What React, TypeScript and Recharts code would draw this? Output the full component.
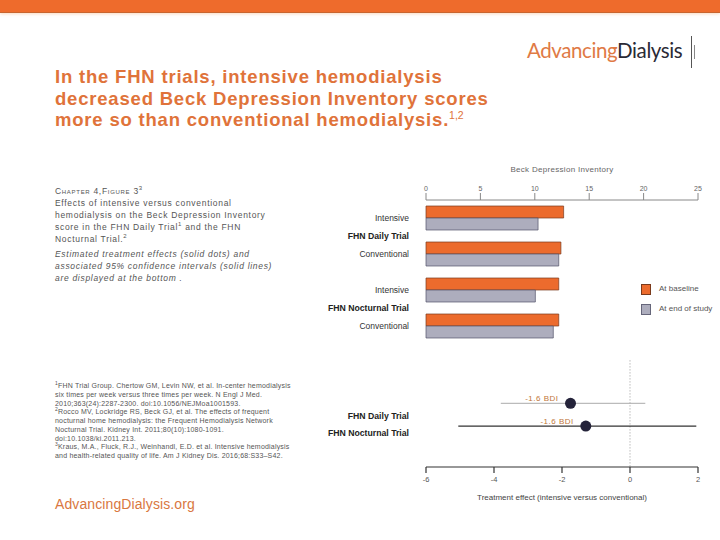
import React from 'react';
import {
  BarChart, Bar, XAxis, YAxis, ScatterChart, Scatter, ReferenceLine,
} from 'recharts';

// ---- Bar chart data (Beck Depression Inventory) ----
const armLabels = ['Intensive', 'Conventional', 'Intensive', 'Conventional'];
const trialGroups = ['FHN Daily Trial', '', 'FHN Nocturnal Trial', ''];
const baselineValues = [12.65, 12.4, 12.2, 12.2];
const endValues = [10.3, 12.2, 10.05, 11.7];
const bdiTicks = [0, 5, 10, 15, 20, 25];
const seriesNames = ['At baseline', 'At end of study'];

// ---- Forest plot data (treatment effect) ----
const forestTrials = ['FHN Daily Trial', 'FHN Nocturnal Trial'];
const effectValues = [-1.75, -1.3];
const ciLow = [-3.8, -5.05];
const ciHigh = [0.45, 1.95];
const effectLabels = ['-1.6 BDI', '-1.6 BDI'];
const effectTicks = [-6, -4, -2, 0, 2];
const effectRows = [4.1, 5.85];
const trialLabelRows = [5.1, 6.4];

const ORANGE = '#EC6B2D';
const GREY = '#ADADBD';
const TITLE_ORANGE = '#E0733A';
const FONT = '"Liberation Sans", Arial, sans-serif';

const barData = armLabels.map((a, i) => ({
  key: 'r' + i,
  arm: a,
  group: trialGroups[i],
  baseline: baselineValues[i],
  end: endValues[i],
}));

const forestData = forestTrials.map((t, i) => ({
  trial: t,
  effect: effectValues[i],
  row: effectRows[i],
  label: effectLabels[i],
}));

const BarTick = (props: any) => {
  const { x, y, index } = props;
  const row = barData[index];
  if (!row) return null;
  return (
    <g>
      <text x={x} y={y} dy="0.35em" textAnchor="end" fontSize={8.5} fill="#333" fontFamily={FONT}>
        {row.arm}
      </text>
      {row.group ? (
        <text x={x} y={y + 18} dy="0.35em" textAnchor="end" fontSize={8.7} fontWeight="bold" fill="#222" fontFamily={FONT}>
          {row.group}
        </text>
      ) : null}
    </g>
  );
};

const ForestTick = (props: any) => {
  const { x, y, index } = props;
  return (
    <text x={x} y={y} dy="0.35em" textAnchor="end" fontSize={8.7} fontWeight="bold" fill="#222" fontFamily={FONT}>
      {forestTrials[index]}
    </text>
  );
};

const EffectDot = (props: any) => {
  const { cx, cy, payload } = props;
  return (
    <g>
      <circle cx={cx} cy={cy} r={5.5} fill="#24233A" />
      <text x={cx - 12} y={cy - 5} dy="0.35em" textAnchor="end" fontSize={8} fill="#C0763A" fontFamily={FONT} letterSpacing={0.5}>
        {payload.label}
      </text>
    </g>
  );
};

const abs = (left: number, top: number, extra: any = {}) => ({ position: 'absolute' as const, left, top, ...extra });

export default function App() {
  return (
    <div style={{ position: 'fixed', left: 0, top: 0, width: 720, height: 540, background: '#fff', overflow: 'hidden', fontFamily: FONT }}>
      {/* top bar */}
      <div style={abs(0, 0, { width: 720, height: 12, background: '#EE6B2C', borderBottom: '1px solid #C8652F', boxShadow: '0 1px 3px rgba(240,150,80,0.35)' })} />

      {/* logo */}
      <div style={abs(527, 38, { fontFamily: 'Lato, sans-serif', fontSize: 20.5, letterSpacing: -0.4, lineHeight: '24px', whiteSpace: 'nowrap' })}>
        <span style={{ color: '#E07A45' }}>Advancing</span>
        <span style={{ color: '#2A2A35' }}>Dialysis</span>
      </div>
      <div style={abs(691, 36, { width: 1, height: 32, background: '#555' })} />
      <div style={abs(694, 45, { width: 1, height: 14, background: '#888' })} />

      {/* title */}
      <div style={abs(55, 66, { color: TITLE_ORANGE, fontWeight: 'bold', fontSize: 18.5, lineHeight: '21.5px', letterSpacing: 0.8, whiteSpace: 'nowrap' })}>
        In the FHN trials, intensive hemodialysis<br />
        decreased Beck Depression Inventory scores<br />
        more so than conventional hemodialysis.<sup style={{ fontSize: 10.5, fontWeight: 'normal', verticalAlign: 'top', lineHeight: '12px', letterSpacing: 0 }}>1,2</sup>
      </div>

      {/* caption */}
      <div style={abs(55, 185, { color: '#555', fontSize: 8.5, lineHeight: '12px', letterSpacing: 0.7, whiteSpace: 'nowrap' })}>
        <span style={{ fontVariant: 'small-caps' }}>Chapter 4,Figure 3</span><sup style={{ fontSize: 6, lineHeight: 0 }}>3</sup><br />
        Effects of intensive versus conventional<br />
        hemodialysis on the Beck Depression Inventory<br />
        score in the FHN Daily Trial<sup style={{ fontSize: 6, lineHeight: 0 }}>1</sup> and the FHN<br />
        Nocturnal Trial.<sup style={{ fontSize: 6, lineHeight: 0 }}>2</sup>
        <div style={{ fontStyle: 'italic', marginTop: 3 }}>
          Estimated treatment effects (solid dots) and<br />
          associated 95% confidence intervals (solid lines)<br />
          are displayed at the bottom .
        </div>
      </div>

      {/* references */}
      <div style={abs(55, 382, { color: '#555', fontSize: 7, lineHeight: '8.75px', letterSpacing: 0.2, whiteSpace: 'nowrap' })}>
        <sup style={{ fontSize: 5, lineHeight: 0 }}>1</sup>FHN Trial Group. Chertow GM, Levin NW, et al. In-center hemodialysis<br />
        six times per week versus three times per week. N Engl J Med.<br />
        2010;363(24):2287-2300. doi:10.1056/NEJMoa1001593.<br />
        <sup style={{ fontSize: 5, lineHeight: 0 }}>2</sup>Rocco MV, Lockridge RS, Beck GJ, et al. The effects of frequent<br />
        nocturnal home hemodialysis: the Frequent Hemodialysis Network<br />
        Nocturnal Trial. Kidney Int. 2011;80(10):1080-1091.<br />
        doi:10.1038/ki.2011.213.<br />
        <sup style={{ fontSize: 5, lineHeight: 0 }}>3</sup>Kraus, M.A., Fluck, R.J., Weinhandl, E.D. et al. Intensive hemodialysis<br />
        and health-related quality of life. Am J Kidney Dis. 2016;68:S33–S42.
      </div>

      {/* footer url */}
      <div style={abs(55, 495, { color: '#D9773F', fontSize: 14, lineHeight: '18px', letterSpacing: 0.1, whiteSpace: 'nowrap' })}>
        AdvancingDialysis.org
      </div>

      {/* bar chart title */}
      <div style={abs(462, 164, { width: 200, textAlign: 'center', color: '#666', fontSize: 8, lineHeight: '12px', letterSpacing: 0.3 })}>
        Beck Depression Inventory
      </div>

      {/* bar chart */}
      <div style={abs(318, 155)}>
        <BarChart
          width={402}
          height={190}
          data={barData}
          layout="vertical"
          margin={{ top: 15, right: 22, bottom: 1, left: 0 }}
          barCategoryGap={6}
          barGap={0}
        >
          <XAxis
            type="number"
            orientation="top"
            domain={[0, 25]}
            ticks={bdiTicks}
            height={30}
            tickSize={7}
            tickMargin={2}
            stroke="#888"
            tick={{ fontSize: 7, fill: '#666', fontFamily: FONT }}
          />
          <YAxis
            type="category"
            dataKey="key"
            width={108}
            axisLine={false}
            tickLine={false}
            tickSize={0}
            tickMargin={17}
            tick={<BarTick />}
            interval={0}
          />
          <Bar dataKey="baseline" name={seriesNames[0]} fill={ORANGE} stroke="#7A3A1C" strokeWidth={0.7} isAnimationActive={false} />
          <Bar dataKey="end" name={seriesNames[1]} fill={GREY} stroke="#55556A" strokeWidth={0.7} isAnimationActive={false} />
        </BarChart>
      </div>

      {/* legend */}
      <div style={abs(641, 283, { fontSize: 8, color: '#555', lineHeight: '12px' })}>
        {seriesNames.map((n, i) => (
          <div key={n} style={{ display: 'flex', alignItems: 'center', height: 12, marginBottom: 8 }}>
            <div style={{ width: 10, height: 11, background: i === 0 ? ORANGE : GREY, border: '0.7px solid ' + (i === 0 ? '#7A3A1C' : '#66667A'), boxSizing: 'border-box' }} />
            <span style={{ marginLeft: 8, whiteSpace: 'nowrap' }}>{n}</span>
          </div>
        ))}
      </div>

      {/* forest plot */}
      <div style={abs(318, 340)}>
        <ScatterChart width={402} height={170} margin={{ top: 10, right: 22, bottom: 0, left: 0 }}>
          <XAxis
            type="number"
            dataKey="effect"
            domain={[-6, 2]}
            ticks={effectTicks}
            height={43}
            tickSize={6}
            tickMargin={4}
            stroke="#333"
            strokeWidth={1.2}
            tick={{ fontSize: 7.5, fill: '#555', fontFamily: FONT }}
            label={{ value: 'Treatment effect (intensive versus conventional)', position: 'insideBottom', offset: 10, fontSize: 8, fill: '#444', fontFamily: FONT }}
          />
          <YAxis
            type="number"
            dataKey="row"
            domain={[0, 9]}
            reversed
            ticks={trialLabelRows}
            width={108}
            axisLine={false}
            tickLine={false}
            tickSize={0}
            tickMargin={17}
            tick={<ForestTick />}
            interval={0}
          />
          <ReferenceLine segment={[{ x: 0, y: 0.8 }, { x: 0, y: 9 }]} stroke="#999" strokeDasharray="1 2" />
          {forestData.map((d, i) => (
            <ReferenceLine
              key={d.trial}
              segment={[{ x: ciLow[i], y: d.row }, { x: ciHigh[i], y: d.row }]}
              stroke={i === 0 ? '#AAAAAA' : '#333333'}
              strokeWidth={i === 0 ? 1 : 1.3}
              ifOverflow="visible"
            />
          ))}
          <Scatter data={forestData} dataKey="effect" shape={<EffectDot />} isAnimationActive={false} />
        </ScatterChart>
      </div>
    </div>
  );
}
